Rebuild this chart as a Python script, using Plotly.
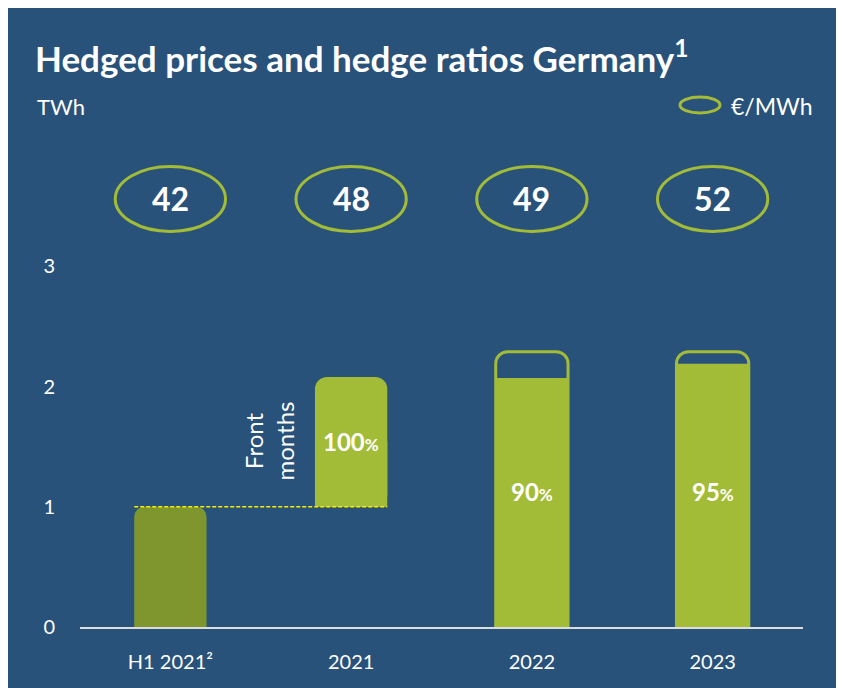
import plotly.graph_objects as go

# ---------------- data ----------------
categories = ["H1 2021²", "2021", "2022", "2023"]
h1_volume = [1.0]                 # H1 2021 hedged volume (TWh)
front_base = [1.0]                # 2021 front-months bar starts at 1 TWh
front_top = [2.08]                # 2021 bar top (TWh)
outline_total = [2.29, 2.29]      # 2022, 2023 total volume (outline)
hedged_fill = [2.07, 2.19]        # 2022, 2023 hedged volume
prices = [42, 48, 49, 52]         # €/MWh
ratio_labels = ["100", "90", "95"]
ratio_y = [1.54, 1.13, 1.13]
y_ticks = [0, 1, 2, 3]

# ---------------- style ----------------
BG = "#29527a"
GREEN = "#a3bc38"
OLIVE = "#7f962f"
WHITE = "#ffffff"
FONT = "Lato"

W, H = 844, 688
OFF = 8  # page body margin
L, R, T, B = 72, 49, 138, 69
PW, PH = W - L - R, H - T - B
YMAX = 4.0

def px_x(px):
    return (px - OFF - L) / PW

def px_y(py):
    return (H - B - (py - OFF)) / PH

idx = list(range(len(categories)))
BW = 0.40
fig = go.Figure()

fig.add_trace(go.Bar(x=[idx[0]], y=h1_volume, width=BW,
                     marker=dict(color=OLIVE, cornerradius=10, line=dict(width=0)),
                     hoverinfo="skip"))
fig.add_trace(go.Bar(x=[idx[1]], y=[front_top[0] - front_base[0]], base=front_base,
                     width=BW, marker=dict(color=GREEN, cornerradius=12, line=dict(width=0)),
                     hoverinfo="skip"))
# square off the bottom of the floating 2021 bar
fig.add_trace(go.Bar(x=[idx[1]], y=[(front_top[0] - front_base[0]) / 2], base=front_base,
                     width=BW, marker=dict(color=GREEN, line=dict(width=0)),
                     hoverinfo="skip"))
fig.add_trace(go.Bar(x=idx[2:], y=outline_total, width=BW,
                     marker=dict(color="rgba(0,0,0,0)", cornerradius=12,
                                 line=dict(color=GREEN, width=3)),
                     hoverinfo="skip"))
fig.add_trace(go.Bar(x=idx[2:], y=hedged_fill, width=BW,
                     marker=dict(color=GREEN, line=dict(width=0)),
                     hoverinfo="skip"))

shapes = []
# dashed line at 1 TWh
shapes.append(dict(type="line", xref="x", yref="y", x0=idx[0] - BW / 2, x1=idx[1] + BW / 2,
                   y0=front_base[0], y1=front_base[0],
                   line=dict(color="#f5ee00", width=1.5, dash="4px,2px"), layer="above"))
annotations = []
# price ellipses
for i, p in zip(idx, prices):
    shapes.append(dict(type="circle", xref="x", yref="y",
                       x0=i - 0.305, x1=i + 0.305, y0=3.29, y1=3.83,
                       line=dict(color=GREEN, width=3)))
    annotations.append(dict(x=i, y=3.56, xref="x", yref="y", text=f"<b>{p}</b>",
                            showarrow=False, font=dict(family=FONT, size=32, color=WHITE)))
# legend ellipse
shapes.append(dict(type="circle", xref="paper", yref="paper",
                   x0=px_x(680), x1=px_x(720), y0=px_y(113), y1=px_y(97),
                   line=dict(color=GREEN, width=3)))

# ratio labels
for i, lab, yy in zip(idx[1:], ratio_labels, ratio_y):
    annotations.append(dict(x=i, y=yy, xref="x", yref="y",
                            text=f"<b>{lab}<span style='font-size:17px'>%</span></b>",
                            showarrow=False, font=dict(family=FONT, size=24, color=WHITE)))
# Front months
annotations.append(dict(x=0.545, y=1.55, xref="x", yref="y", text="Front<br>months",
                        textangle=-90, showarrow=False,
                        font=dict(family=FONT, size=24, color=WHITE)))
# title & units
annotations.append(dict(x=px_x(33), y=px_y(56), xref="paper", yref="paper",
                        xanchor="left", yanchor="middle", showarrow=False,
                        text="<b>Hedged prices and hedge ratios Germany<sup>1</sup></b>",
                        font=dict(family=FONT, size=35, color=WHITE)))
annotations.append(dict(x=px_x(35), y=px_y(106), xref="paper", yref="paper",
                        xanchor="left", yanchor="middle", showarrow=False,
                        text="TWh", font=dict(family=FONT, size=22, color=WHITE)))
annotations.append(dict(x=px_x(729), y=px_y(106), xref="paper", yref="paper",
                        xanchor="left", yanchor="middle", showarrow=False,
                        text="€/MWh", font=dict(family=FONT, size=23, color=WHITE)))

fig.update_layout(
    width=W, height=H,
    margin=dict(l=L, r=R, t=T, b=B, autoexpand=False),
    paper_bgcolor=BG, plot_bgcolor="rgba(0,0,0,0)",
    barmode="overlay", showlegend=False,
    shapes=shapes, annotations=annotations,
    xaxis=dict(range=[-0.5, len(categories) - 0.5], tickvals=idx, ticktext=categories,
               showgrid=False, zeroline=False, showline=True, linecolor="#dcdcdc", linewidth=2,
               ticks="outside", ticklen=16, tickcolor="rgba(0,0,0,0)",
               tickfont=dict(family=FONT, size=20, color=WHITE), fixedrange=True),
    yaxis=dict(range=[0, YMAX], tickvals=y_ticks, showgrid=False, zeroline=False,
               showline=False, ticks="outside", ticklen=20, tickcolor="rgba(0,0,0,0)",
               tickfont=dict(family=FONT, size=20, color=WHITE), fixedrange=True),
)

fig.write_html("out.html")
